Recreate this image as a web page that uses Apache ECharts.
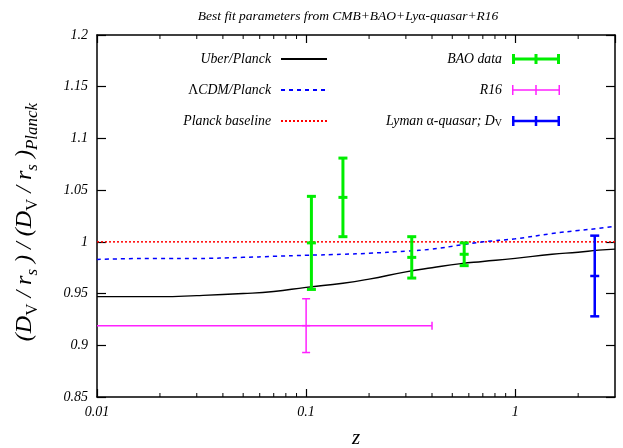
<!DOCTYPE html>
<html>
<head>
<meta charset="utf-8">
<script src="https://cdn.jsdelivr.net/npm/echarts@6/dist/echarts.min.js"></script>
<style>html,body{margin:0;padding:0;background:#fff}#c{width:623px;height:448px}</style>
</head>
<body>
<div id="c"></div>
<script>
// ---- data ----
const zCurve = [0.01, 0.02, 0.03, 0.05, 0.07, 0.1, 0.15, 0.2, 0.3, 0.4, 0.55, 0.7, 1.0, 1.5, 2.0, 2.5, 3.0];
const uberPlanck = [0.947, 0.947, 0.948, 0.950, 0.952, 0.956, 0.960, 0.964, 0.971, 0.975, 0.979, 0.981, 0.984, 0.988, 0.990, 0.992, 0.993];
const lcdmPlanck = [0.983, 0.984, 0.984, 0.985, 0.986, 0.987, 0.988, 0.989, 0.991, 0.993, 0.997, 1.000, 1.003, 1.008, 1.011, 1.013, 1.015];
const baselineZ = [0.01, 3.0];
const baselineV = [1.0, 1.0];

const baoZ = [0.106, 0.15, 0.32, 0.57];
const baoV = [0.999, 1.043, 0.985, 0.988];
const baoErr = [0.045, 0.038, 0.020, 0.011];

const r16Z = [0.1];
const r16V = [0.919];
const r16Err = [0.026];
const r16ZErr = [0.3];

const lyaZ = [2.4];
const lyaV = [0.967];
const lyaErr = [0.039];

const xMin = 0.01, xMax = 3;
const yMin = 0.85, yMax = 1.2, yStep = 0.05;
const xTickValues = [0.01, 0.1, 1];
const xTickLabels = ['0.01', '0.1', '1'];
const xMinorTicks = [0.02,0.03,0.04,0.05,0.06,0.07,0.08,0.09,0.2,0.3,0.4,0.5,0.6,0.7,0.8,0.9,2];

const serif = '"Liberation Serif", "DejaVu Serif", serif';
const zip = (a, b) => a.map((v, i) => [v, b[i]]);

function errRender(color, lw, capHalf) {
  return function (params, api) {
    const z = api.value(0), y = api.value(1), e = api.value(2), ze = api.value(3);
    const c = api.coord([z, y]);
    const lo = api.coord([z, y - e]);
    const hi = api.coord([z, y + e]);
    const st = { stroke: color, lineWidth: lw };
    const ch = [
      { type: 'line', shape: { x1: c[0], y1: lo[1], x2: c[0], y2: hi[1] }, style: st },
      { type: 'line', shape: { x1: c[0] - capHalf, y1: lo[1], x2: c[0] + capHalf, y2: lo[1] }, style: st },
      { type: 'line', shape: { x1: c[0] - capHalf, y1: hi[1], x2: c[0] + capHalf, y2: hi[1] }, style: st },
      { type: 'line', shape: { x1: c[0] - capHalf, y1: c[1], x2: c[0] + capHalf, y2: c[1] }, style: st }
    ];
    if (ze && !isNaN(ze)) {
      const zl = z - ze, zh = Math.min(z + ze, xMax);
      const clippedLo = zl <= xMin;
      const pl = api.coord([clippedLo ? xMin : zl, y]);
      const ph = api.coord([zh, y]);
      ch.push({ type: 'line', shape: { x1: pl[0], y1: c[1], x2: ph[0], y2: c[1] }, style: st });
      ch.push({ type: 'line', shape: { x1: ph[0], y1: c[1] - capHalf, x2: ph[0], y2: c[1] + capHalf }, style: st });
      if (!clippedLo) ch.push({ type: 'line', shape: { x1: pl[0], y1: c[1] - capHalf, x2: pl[0], y2: c[1] + capHalf }, style: st });
    }
    return { type: 'group', children: ch };
  };
}

function minorRender(params, api) {
  const v = api.value(0);
  const b = api.coord([v, yMin]);
  const t = api.coord([v, yMax]);
  const st = { stroke: '#000', lineWidth: 1 };
  return { type: 'group', children: [
    { type: 'line', shape: { x1: b[0], y1: b[1], x2: b[0], y2: b[1] - 4 }, style: st },
    { type: 'line', shape: { x1: t[0], y1: t[1], x2: t[0], y2: t[1] + 4 }, style: st }
  ]};
}

function errIcon(th) {
  const h = 10, w = 48, m = (h - th) / 2;
  return 'path://M0,0h' + th + 'v' + h + 'h-' + th + 'z' +
    'M' + (w / 2 - th / 2) + ',0h' + th + 'v' + h + 'h-' + th + 'z' +
    'M' + (w - th) + ',0h' + th + 'v' + h + 'h-' + th + 'z' +
    'M0,' + m + 'h' + w + 'v' + th + 'h-' + w + 'z';
}

const FS = 13.8;
const labelStyle = { fontFamily: serif, fontStyle: 'italic', fontSize: 14, color: '#000' };
const legText = { fontFamily: serif, fontStyle: 'italic', fontSize: FS, color: '#000', padding: [0, 5, 0, 0],
  rich: { i: { fontFamily: serif, fontStyle: 'italic', fontSize: FS },
          u: { fontFamily: serif, fontStyle: 'normal', fontSize: FS },
          s: { fontFamily: serif, fontStyle: 'normal', fontSize: 10, verticalAlign: 'bottom', lineHeight: 10 },
          b: { fontFamily: serif, fontStyle: 'italic', fontSize: FS } } };

const chart = echarts.init(document.getElementById('c'), null, { renderer: 'canvas' });
chart.setOption({
  animation: false,
  backgroundColor: '#fff',
  title: {
    text: 'Best fit parameters from CMB+BAO+Ly{u|α}-quasar+R16',
    left: 343, top: 4, textAlign: 'center',
    textStyle: { fontFamily: serif, fontStyle: 'italic', fontWeight: 'normal', fontSize: 13.5, color: '#000',
      rich: { u: { fontFamily: serif, fontStyle: 'normal', fontSize: 13.5, color: '#000' } } }
  },
  grid: { left: 97, right: 8, top: 35, bottom: 51, outerBoundsMode: 'none', containLabel: false },
  legend: [
    { orient: 'vertical', align: 'right', right: 295, top: 52, padding: 0, itemWidth: 46, itemHeight: 12, itemGap: 17,
      textStyle: legText, selectedMode: false, itemStyle: { opacity: 0 },
      data: [{ name: 'Uber/Planck' }, { name: 'ΛCDM/Planck' }, { name: 'Planck baseline' }],
      formatter: n => n === 'ΛCDM/Planck' ? '{u|Λ}{i|CDM/Planck}' : n },
    { orient: 'vertical', align: 'right', right: 63, top: 52, padding: 0, itemWidth: 48, itemHeight: 10, itemGap: 17,
      textStyle: legText, selectedMode: false,
      data: [{ name: 'BAO data', icon: errIcon(3) }, { name: 'R16', icon: errIcon(1.5) }, { name: 'Lyman α-quasar; DV', icon: errIcon(2.5) }],
      formatter: n => n === 'Lyman α-quasar; DV' ? '{b|Lyman }{u|α}{i|-quasar; D}{s|V}' : n }
  ],
  xAxis: [
    { type: 'log', logBase: 10, min: xMin, max: xMax, position: 'bottom',
      name: 'z', nameLocation: 'middle', nameGap: 31,
      nameTextStyle: { fontFamily: serif, fontStyle: 'italic', fontSize: 21, color: '#000' },
      axisLine: { lineStyle: { color: '#000', width: 1.5 } },
      axisTick: { inside: true, length: 8, lineStyle: { color: '#000', width: 1.2 } },
      splitLine: { show: false }, minorTick: { show: false },
      axisLabel: Object.assign({ margin: 8, showMaxLabel: false,
        formatter: v => { const k = xTickValues.findIndex(t => Math.abs(Math.log10(t) - Math.log10(v)) < 1e-6); return k >= 0 ? xTickLabels[k] : ''; } }, labelStyle) },
    { type: 'log', logBase: 10, min: xMin, max: xMax, position: 'top',
      axisLine: { lineStyle: { color: '#000', width: 1.5 } },
      axisTick: { inside: true, length: 8, lineStyle: { color: '#000', width: 1.2 } },
      axisLabel: { show: false }, splitLine: { show: false } }
  ],
  yAxis: [
    { type: 'value', min: yMin, max: yMax, interval: yStep, position: 'left',
      name: '{i|(D}{sv|V}{i| / r}{ss|s}{i| ) / (D}{sv|V}{i| / r}{ss|s}{i| )}{ss|Planck}',
      nameLocation: 'middle', nameGap: 56, nameRotate: 90,
      nameTextStyle: { fontFamily: serif, fontStyle: 'italic', fontSize: 24, color: '#000', padding: [0, 12, 0, 0],
        rich: {
          i: { fontFamily: serif, fontStyle: 'italic', fontSize: 24, lineHeight: 32, color: '#000' },
          sv: { fontFamily: serif, fontStyle: 'normal', fontSize: 17, lineHeight: 13, verticalAlign: 'bottom', color: '#000' },
          ss: { fontFamily: serif, fontStyle: 'italic', fontSize: 17, lineHeight: 13, verticalAlign: 'bottom', color: '#000' }
        } },
      axisLine: { lineStyle: { color: '#000', width: 1.5 } },
      axisTick: { inside: true, length: 9, lineStyle: { color: '#000', width: 1.2 } },
      splitLine: { show: false },
      axisLabel: Object.assign({ margin: 9 }, labelStyle) },
    { type: 'value', min: yMin, max: yMax, interval: yStep, position: 'right',
      axisLine: { show: true, lineStyle: { color: '#000', width: 1.5 } },
      axisTick: { show: true, inside: true, length: 9, lineStyle: { color: '#000', width: 1.2 } },
      axisLabel: { show: false }, splitLine: { show: false } }
  ],
  series: [
    { name: 'Uber/Planck', type: 'line', data: zip(zCurve, uberPlanck), smooth: true, symbol: 'none',
      lineStyle: { color: '#000', width: 1.4 }, itemStyle: { color: '#000' }, z: 3 },
    { name: 'ΛCDM/Planck', type: 'line', data: zip(zCurve, lcdmPlanck), smooth: true, symbol: 'none',
      lineStyle: { color: '#0000ff', width: 1.5, type: [4, 4] }, itemStyle: { color: '#0000ff' }, z: 3 },
    { name: 'Planck baseline', type: 'line', data: zip(baselineZ, baselineV), symbol: 'none',
      lineStyle: { color: '#ff0000', width: 1.5, type: [2, 2] }, itemStyle: { color: '#ff0000' }, z: 2 },
    { name: 'BAO data', type: 'custom', renderItem: errRender('#00ee00', 3, 4.5),
      data: baoZ.map((z, i) => [z, baoV[i], baoErr[i], NaN]), encode: { x: 0, y: 1 },
      itemStyle: { color: '#00ee00' }, z: 4 },
    { name: 'R16', type: 'custom', renderItem: errRender('#ff22ff', 1.5, 4),
      data: r16Z.map((z, i) => [z, r16V[i], r16Err[i], r16ZErr[i]]), encode: { x: 0, y: 1 },
      itemStyle: { color: '#ff22ff' }, z: 4 },
    { name: 'Lyman α-quasar; DV', type: 'custom', renderItem: errRender('#0000ff', 2.5, 4.5),
      data: lyaZ.map((z, i) => [z, lyaV[i], lyaErr[i], NaN]), encode: { x: 0, y: 1 },
      itemStyle: { color: '#0000ff' }, z: 4 },
    { name: 'minorTicks', type: 'custom', renderItem: minorRender, silent: true,
      data: xMinorTicks.map(v => [v, yMin]), encode: { x: 0, y: 1 }, z: 5 }
  ]
});
</script>
</body>
</html>
